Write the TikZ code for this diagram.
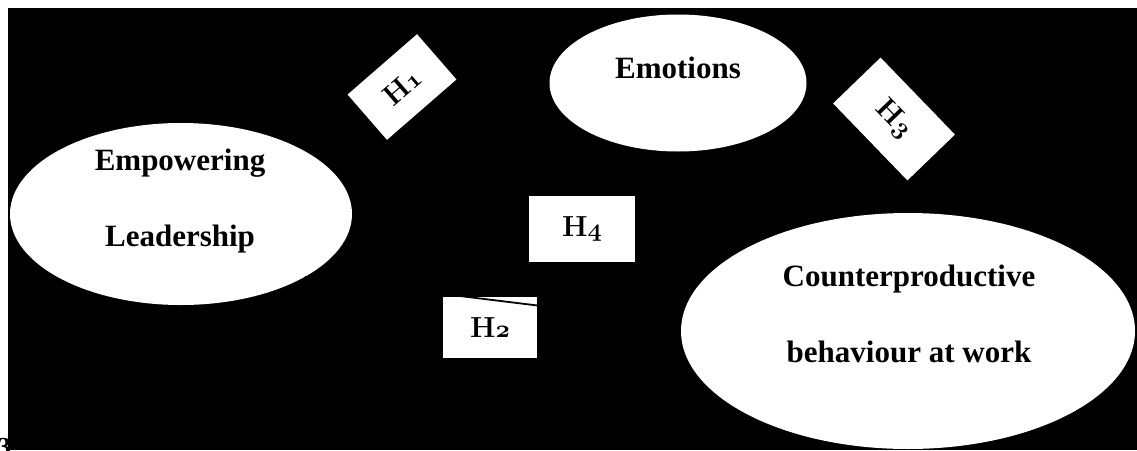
\documentclass[tikz,border=0pt]{standalone}
\usepackage{fontspec}
\newfontfamily\capfont{Liberation Serif}
\usetikzlibrary{shapes.geometric}
\newcommand\osnum[1]{{\usefont{OML}{cmm}{b}{it}#1}}
\tikzset{
  bubble/.style={ellipse, fill=white, draw=none, inner sep=0pt},
  caption/.style={font=\capfont\bfseries\fontsize{31}{31}\selectfont, anchor=base, text=black, inner sep=0pt},
  hbox/.style={rectangle, fill=white, draw=none, inner sep=0pt, text=black,
    font=\bfseries\fontsize{29}{29}\selectfont},
  hidden/.style={draw=black, line width=1.8pt}
}
\begin{document}
\begin{tikzpicture}[x=1pt,y=1pt]
\useasboundingbox (0,0) rectangle (1137,-450);
\fill[white] (0,0) rectangle (1137,-450);
\node[font=\capfont\bfseries\fontsize{26}{26}\selectfont, anchor=base east, inner sep=0pt] (pg) at (11,-455) {3};
\fill[black] (8,-8) rectangle (1137,-450);

% ellipses
\node[bubble, minimum width=342pt, minimum height=182pt] (emp) at (181,-214) {};
\node[caption] (empA) at (180,-170) {Empowering};
\node[caption] (empB) at (180,-246) {Leadership};

\node[bubble, minimum width=257pt, minimum height=137pt] (emo) at (678,-83) {};
\node[caption] (emoA) at (678,-78) {Emotions};

\node[bubble, minimum width=454pt, minimum height=236pt] (cbw) at (908,-331) {};
\node[caption] (cbwA) at (909,-286) {Counterproductive};
\node[caption] (cbwB) at (909,-362) {behaviour at work};

% hypothesis boxes
\node[hbox, minimum width=92pt, minimum height=60pt, rotate=41] (h1) at (402,-87) {H\osnum{1}};
\node[hbox, minimum width=107pt, minimum height=66pt, rotate=-46] (h3) at (894,-119) {H\osnum{3}};
\node[hbox, minimum width=106pt, minimum height=66pt] (h4) at (582,-229) {H\osnum{4}};
\node[hbox, minimum width=94pt, minimum height=61pt] (h2) at (490,-327.5) {H\osnum{2}};

% connector (black on black, visible across H2)
\draw[hidden] (emp.-27) -- (cbw.178);
\end{tikzpicture}
\end{document}
